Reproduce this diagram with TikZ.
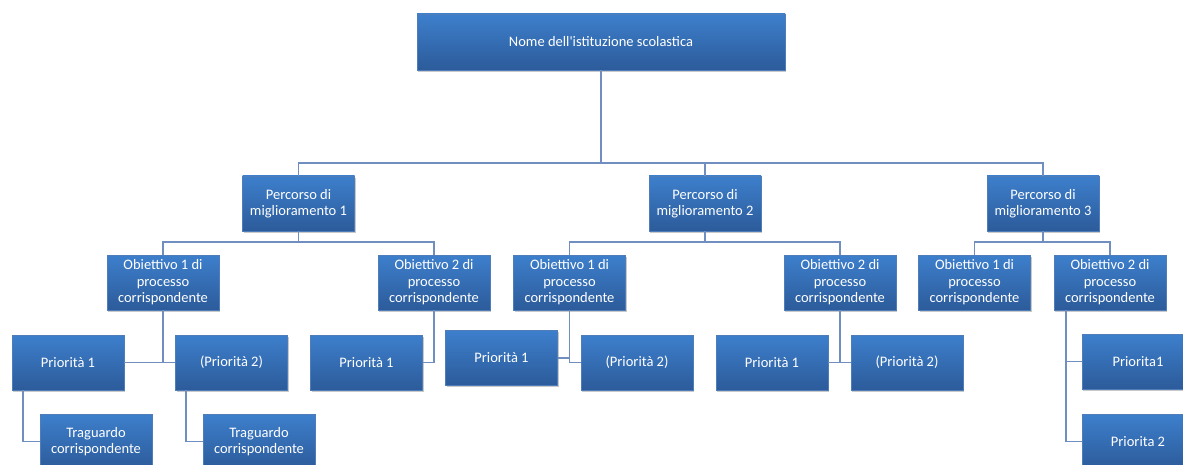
\documentclass[tikz,border=0pt]{standalone}
\usepackage{fontspec}
\setmainfont{Carlito}
\usetikzlibrary{shadows}
\definecolor{boxtop}{RGB}{61,127,204}
\definecolor{boxbot}{RGB}{44,91,154}
\definecolor{boxline}{RGB}{78,125,185}
\definecolor{conn}{RGB}{112,142,192}
\tikzset{
  box/.style={rectangle, draw=boxline, line width=0.6pt, top color=boxtop, bottom color=boxbot,
    text=white, align=center, inner sep=1pt, minimum width=112pt, minimum height=55pt,
    font=\fontsize{14.5}{16.5}\selectfont,
    drop shadow={shadow xshift=1.2pt, shadow yshift=-1.8pt, opacity=0.35, fill=black!60}},
  link/.style={draw=conn, line width=1.3pt}
}
\begin{document}
\begin{tikzpicture}[x=1pt,y=-1pt]
\clip (0,0) rectangle (1183,465);
\fill[white] (0,0) rectangle (1183,465);
% level 1
\node[box, minimum width=368pt, minimum height=56pt] (top) at (601,42) {Nome dell\textquotesingle istituzione scolastica};
% level 2
\node[box] (p1) at (298.5,203.5) {Percorso di\\miglioramento 1};
\node[box] (p2) at (705,203.5) {Percorso di\\miglioramento 2};
\node[box] (p3) at (1043,203.5) {Percorso di\\miglioramento 3};
% level 3
\node[box] (o11) at (163,282.5) {Obiettivo 1 di\\processo\\corrispondente};
\node[box] (o12) at (434,282.5) {Obiettivo 2 di\\processo\\corrispondente};
\node[box] (o21) at (569.5,282.5) {Obiettivo 1 di\\processo\\corrispondente};
\node[box] (o22) at (840,282.5) {Obiettivo 2 di\\processo\\corrispondente};
\node[box] (o31) at (974.5,282.5) {Obiettivo 1 di\\processo\\corrispondente};
\node[box] (o32) at (1110,282.5) {Obiettivo 2 di\\processo\\corrispondente};
% level 4
\node[box] (a1) at (68,362.5) {Priorità 1};
\node[box] (a2) at (231.5,362.5) {(Priorità 2)};
\node[box] (b1) at (366.5,362.5) {Priorità 1};
\node[box] (c1) at (501.5,358) {Priorità 1};
\node[box] (c2) at (637,362.5) {(Priorità 2)};
\node[box] (d1) at (772,362.5) {Priorità 1};
\node[box] (d2) at (907,362.5) {(Priorità 2)};
\node[box] (e1) at (1138,361.5) {Priorita1};
\node[box] (e2) at (1138,441.5) {Priorita 2};
% level 5
\node[box] (t1) at (96,441.5) {Traguardo\\corrispondente};
\node[box] (t2) at (259,441.5) {Traguardo\\corrispondente};
% connector junctions
\coordinate (b0) at (601,163);
\coordinate (bp1) at (298.5,242);
\coordinate (bp2) at (705,242);
\coordinate (bp3) at (1043,242);
\coordinate (v3) at (1066,310);
\coordinate (va1) at (23,390);
\coordinate (va2) at (186,390);
% connectors
\draw[link] (top.south) -- (b0);
\draw[link] (p1.north) |- (b0) -| (p3.north);
\draw[link] (b0) -| (p2.north);
\draw[link] (p1.south) -- (bp1);
\draw[link] (o11.north) |- (bp1) -| (o12.north);
\draw[link] (p2.south) -- (bp2);
\draw[link] (o21.north) |- (bp2) -| (o22.north);
\draw[link] (p3.south) -- (bp3);
\draw[link] (o31.north) |- (bp3) -| (o32.north);
\draw[link] (o11.south) -- (o11.south |- a1.east);
\draw[link] (a1.east) -- (a2.west);
\draw[link] (o12.south) |- (b1.east);
\draw[link] (o21.south) |- (c2.west);
\draw[link] (c1.east) -- (c1.east -| o21.south);
\draw[link] (o22.south) -- (o22.south |- d1.east);
\draw[link] (d1.east) -- (d2.west);
\draw[link] (v3) |- (e2.west);
\draw[link] (v3 |- e1.west) -- (e1.west);
\draw[link] (va1) |- (t1.west);
\draw[link] (va2) |- (t2.west);
\end{tikzpicture}
\end{document}
